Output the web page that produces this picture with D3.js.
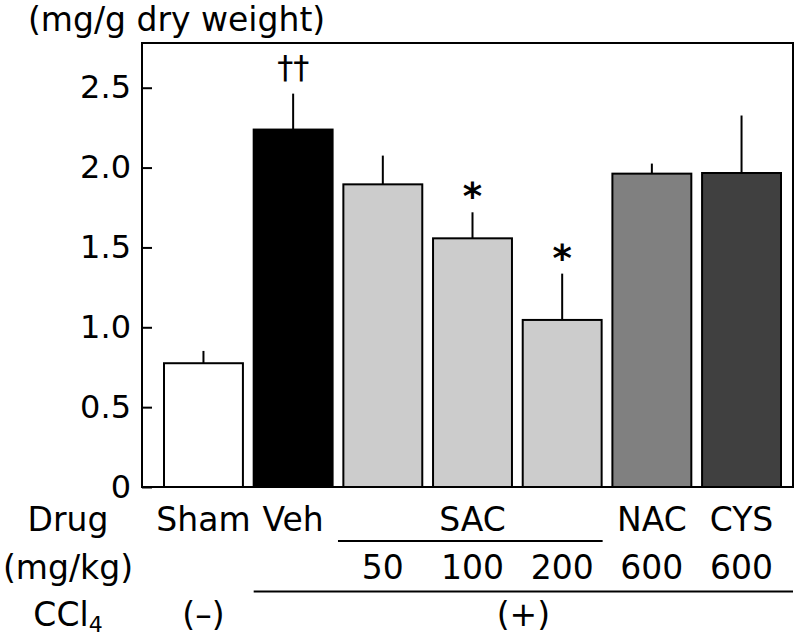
<!DOCTYPE html>
<html>
<head>
<meta charset="utf-8">
<script src="https://cdn.jsdelivr.net/npm/d3@7"></script>
<style>
  html, body { margin: 0; padding: 0; background: #fff; }
  svg text { font-family: "DejaVu Sans", Verdana, sans-serif; fill: #000; }
</style>
</head>
<body>
<svg id="chart" width="798" height="637"></svg>
<script>
const categories = ["Sham", "Veh", "SAC50", "SAC100", "SAC200", "NAC", "CYS"];
const drugLabels = ["Sham", "Veh", "", "SAC", "", "NAC", "CYS"];
const doseLabels = ["", "", "50", "100", "200", "600", "600"];
const means = [0.775, 2.238, 1.895, 1.557, 1.046, 1.962, 1.966];
const errors = [0.077, 0.225, 0.18, 0.163, 0.29, 0.063, 0.36];
const fills = ["#ffffff", "#000000", "#cccccc", "#cccccc", "#cccccc", "#808080", "#404040"];
const marks = ["", "††", "", "*", "*", "", ""];
const yTicks = [0, 0.5, 1.0, 1.5, 2.0, 2.5];
const yTickLabels = ["0", "0.5", "1.0", "1.5", "2.0", "2.5"];
const yMax = 2.78;

const FS = 33;
const svg = d3.select("#chart");
const frame = { left: 142, top: 43, right: 793, bottom: 487 };

const x = d3.scaleBand().domain(categories).range([164, 781]).paddingInner(0.12).paddingOuter(0);
const y = d3.scaleLinear().domain([0, yMax]).range([frame.bottom, frame.top]);

const data = categories.map((c, i) => ({ c, m: means[i], e: errors[i], fill: fills[i], mark: marks[i] }));

// bars
svg.append("g").selectAll("rect").data(data).join("rect")
  .attr("x", d => x(d.c))
  .attr("y", d => y(d.m))
  .attr("width", x.bandwidth())
  .attr("height", d => y(0) - y(d.m))
  .attr("fill", d => d.fill)
  .attr("stroke", "#000")
  .attr("stroke-width", 2);

// error bars (upper only)
svg.append("g").selectAll("line").data(data).join("line")
  .attr("x1", d => x(d.c) + x.bandwidth() / 2)
  .attr("x2", d => x(d.c) + x.bandwidth() / 2)
  .attr("y1", d => y(d.m))
  .attr("y2", d => y(d.m + d.e))
  .attr("stroke", "#000")
  .attr("stroke-width", 2);

// significance marks
svg.append("g").selectAll("text").data(data.filter(d => d.mark)).join("text")
  .attr("x", d => x(d.c) + x.bandwidth() / 2)
  .attr("y", d => d.mark === "*" ? y(d.m + d.e) - 3 : y(d.m + d.e) - 16)
  .attr("text-anchor", "middle")
  .attr("font-size", d => d.mark === "*" ? 37 : 32)
  .attr("font-weight", d => d.mark === "*" ? "bold" : "normal")
  .text(d => d.mark);

// frame
svg.append("rect")
  .attr("x", frame.left).attr("y", frame.top)
  .attr("width", frame.right - frame.left).attr("height", frame.bottom - frame.top)
  .attr("fill", "none").attr("stroke", "#000").attr("stroke-width", 2);

// y axis
const yAxis = d3.axisLeft(y).tickValues(yTicks)
  .tickFormat((d, i) => yTickLabels[i])
  .tickSizeInner(-10).tickSizeOuter(0).tickPadding(11);
const gy = svg.append("g").attr("transform", `translate(${frame.left},0)`).call(yAxis);
gy.select(".domain").remove();
gy.selectAll(".tick line").attr("stroke", "#000").attr("stroke-width", 2);
gy.selectAll(".tick text").attr("font-size", 32).attr("fill", "#000")
  .attr("font-family", "DejaVu Sans, Verdana, sans-serif");

// title
svg.append("text").attr("x", 28).attr("y", 31).attr("font-size", 33).text("(mg/g dry weight)");

// bottom rows
const row1 = 531, row2 = 579, row3 = 626;
const labelX = 68;
svg.append("text").attr("x", labelX).attr("y", row1).attr("text-anchor", "middle").attr("font-size", FS).text("Drug");
svg.append("text").attr("x", labelX).attr("y", row2).attr("text-anchor", "middle").attr("font-size", FS).text("(mg/kg)");
const ccl = svg.append("text").attr("x", labelX).attr("y", row3).attr("text-anchor", "middle").attr("font-size", FS);
ccl.append("tspan").text("CCl");
ccl.append("tspan").attr("font-size", 22).attr("dy", 6).text("4");

svg.append("g").selectAll("text").data(categories).join("text")
  .attr("x", d => x(d) + x.bandwidth() / 2)
  .attr("y", row1).attr("text-anchor", "middle").attr("font-size", FS)
  .text((d, i) => drugLabels[i]);

svg.append("g").selectAll("text").data(categories).join("text")
  .attr("x", d => x(d) + x.bandwidth() / 2)
  .attr("y", row2).attr("text-anchor", "middle").attr("font-size", FS)
  .text((d, i) => doseLabels[i]);

// SAC underline
const gap = x.step() * x.paddingInner() / 2;
svg.append("line")
  .attr("x1", x("SAC50") - gap).attr("x2", x("SAC200") + x.bandwidth() + 1)
  .attr("y1", 541).attr("y2", 541).attr("stroke", "#000").attr("stroke-width", 2);

// CCl4 (+) line
const plusX1 = x("Veh"), plusX2 = frame.right;
svg.append("line")
  .attr("x1", plusX1).attr("x2", plusX2)
  .attr("y1", 591.5).attr("y2", 591.5).attr("stroke", "#000").attr("stroke-width", 2);

svg.append("text").attr("x", x("Sham") + x.bandwidth() / 2).attr("y", row3)
  .attr("text-anchor", "middle").attr("font-size", FS).text("(–)");
svg.append("text").attr("x", (plusX1 + plusX2) / 2).attr("y", row3)
  .attr("text-anchor", "middle").attr("font-size", FS).text("(+)");
</script>
</body>
</html>
